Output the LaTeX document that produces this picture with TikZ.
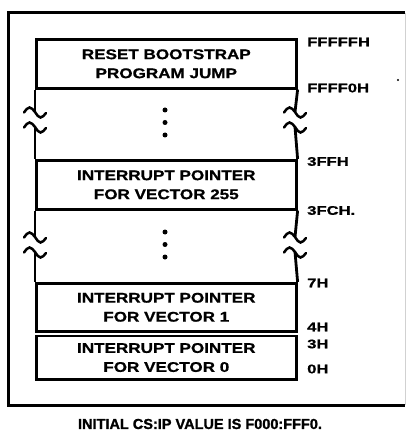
\documentclass[tikz,border=0pt]{standalone}
\usepackage{fontspec}
\newfontfamily\boxfont[FakeStretch=1.22, BoldFeatures={FakeBold=0.9}]{Liberation Sans}
\newfontfamily\adrfont[FakeStretch=1.33, BoldFeatures={FakeBold=0.9}]{Liberation Sans}
\newfontfamily\capfont[BoldFeatures={FakeBold=1.3}]{Liberation Sans}
\begin{document}
\begin{tikzpicture}[x=1pt,y=-1pt,
  mem/.style={draw, line width=2.6pt, minimum width=260pt, inner sep=0pt, anchor=north west, align=center,
              font=\boxfont\bfseries\fontsize{14}{19}\selectfont},
  adr/.style={anchor=west, inner sep=0pt, font=\adrfont\bfseries\fontsize{12.5}{14}\selectfont},
  wall/.style={line width=2.8pt},
  wavy/.style={line width=2.5pt, line cap=round},
  dotmark/.style={circle, fill, inner sep=0pt, minimum size=5pt},
  frame/.style={line width=3pt}]
\useasboundingbox (0,0) rectangle (408,438);

% outer frame
\coordinate (ftr) at (405,12.7);
\coordinate (ftl) at (8,12.7);
\coordinate (fbl) at (8,405);
\coordinate (fbr) at (405,405);
\draw[frame] (ftr) -- (ftl) -- (fbl) -- (fbr);
\draw[line width=0.6pt, black!18] (ftr) -- (fbr);

% memory blocks
\node[mem, minimum height=49pt] (reset) at (35,38) {RESET BOOTSTRAP\\PROGRAM JUMP};
\node[mem, minimum height=49pt] (v255) at (35,159) {INTERRUPT POINTER\\FOR VECTOR 255};
\node[mem, minimum height=48pt] (v1) at (35,282) {INTERRUPT POINTER\\FOR VECTOR 1};
\node[mem, minimum height=43.5pt] (v0) at (35,334.5) {INTERRUPT POINTER\\FOR VECTOR 0};

% break points on the walls
\coordinate (la1) at (35,112);
\coordinate (la2) at (35,127);
\coordinate (ra1) at (295,112);
\coordinate (ra2) at (295,127);
\coordinate (lb1) at (35,237);
\coordinate (lb2) at (35,252);
\coordinate (rb1) at (295,237);
\coordinate (rb2) at (295,252);

% walls
\draw[wall] (reset.south west) -- (la1);
\draw[wall] (la2) -- (v255.north west);
\draw[wall] (reset.south east) -- (ra1);
\draw[wall] (ra2) -- (v255.north east);
\draw[wall] (v255.south west) -- (lb1);
\draw[wall] (lb2) -- (v1.north west);
\draw[wall] (v255.south east) -- (rb1);
\draw[wall] (rb2) -- (v1.north east);

% break waves
\foreach \c in {la1,la2,ra1,ra2,lb1,lb2,rb1,rb2}{
  \draw[wavy] (\c) ++(-11,0.5) sin ++(5.5,-5) cos ++(5.5,4.5) sin ++(5.5,5.5) cos ++(5.5,-4.5);
}

% continuation dots
\node[dotmark] (d1) at (165,110) {};
\node[dotmark] (d2) at (165,122.5) {};
\node[dotmark] (d3) at (165,135) {};
\node[dotmark] (d4) at (165,232) {};
\node[dotmark] (d5) at (165,244.5) {};
\node[dotmark] (d6) at (165,257) {};

% addresses
\node[adr] (a1) at (307,42) {FFFFFH};
\node[adr] (a2) at (307,88) {FFFF0H};
\node[adr] (a3) at (307,161.5) {3FFH};
\node[adr] (a4) at (307,210.5) {3FCH.};
\node[adr] (a5) at (307,283) {7H};
\node[adr] (a6) at (307,327) {4H};
\node[adr] (a7) at (307,344) {3H};
\node[adr] (a8) at (307,369) {0H};
\node[circle, fill, inner sep=0pt, minimum size=2.4pt] (speck) at (398,80) {};

% caption
\node[inner sep=0pt, font=\capfont\bfseries\fontsize{14.5}{17}\selectfont] (cap) at (200,424) {INITIAL CS:IP VALUE IS F000:FFF0.};
\end{tikzpicture}
\end{document}
